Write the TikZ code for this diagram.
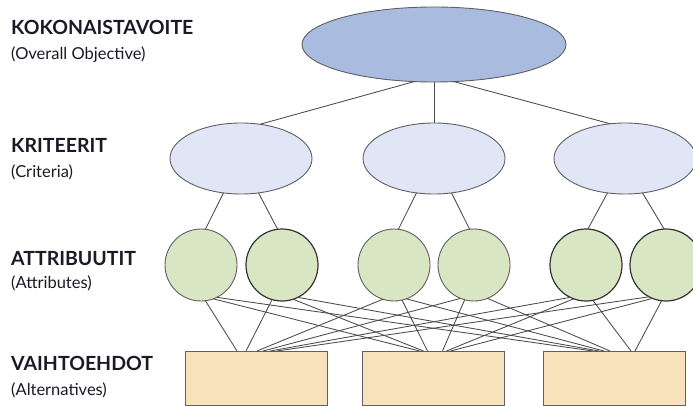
\documentclass[tikz,border=0pt]{standalone}
\usepackage{fontspec}
\setmainfont{Lato}
\usetikzlibrary{shapes.geometric}
\definecolor{topfill}{HTML}{A9BCE0}
\definecolor{critfill}{HTML}{E0E6F5}
\definecolor{attrfill}{HTML}{D8E6C4}
\definecolor{altfill}{HTML}{F8E2BB}
\definecolor{edgegray}{HTML}{606060}
\definecolor{linegray}{HTML}{4A4A4A}
\definecolor{textdark}{HTML}{1A1A26}
\tikzset{
  topnode/.style={ellipse, draw=edgegray, line width=0.9pt, fill=topfill, minimum width=264pt, minimum height=75pt, inner sep=0pt, outer sep=0pt},
  critnode/.style={ellipse, draw=edgegray, line width=0.9pt, fill=critfill, minimum width=142pt, minimum height=71pt, inner sep=0pt, outer sep=0pt},
  attrnode/.style={circle, draw=edgegray, line width=0.9pt, fill=attrfill, minimum size=72pt, inner sep=0pt, outer sep=0pt},
  attrdark/.style={attrnode, draw=black!80, line width=1.2pt},
  altnode/.style={rectangle, draw=edgegray, line width=0.9pt, fill=altfill, minimum width=142pt, minimum height=54pt, inner sep=0pt, outer sep=0pt},
  conn/.style={draw=linegray, line width=0.85pt},
  headlabel/.style={anchor=base west, inner sep=0pt, font=\fontsize{19.5}{21}\selectfont\bfseries, text=textdark},
  sublabel/.style={anchor=base west, inner sep=0pt, font=\fontsize{16.5}{18}\selectfont, text=textdark}
}
\begin{document}
\begin{tikzpicture}[x=1pt, y=-1pt]
\useasboundingbox (0,0) rectangle (693,406);
\fill[white] (0,0) rectangle (693,406);

% labels
\node[headlabel] (l1) at (11,35) {KOKONAISTAVOITE};
\node[sublabel] (s1) at (11,60) {(Overall Objective)};
\node[headlabel] (l2) at (11,153) {KRITEERIT};
\node[sublabel] (s2) at (11,178) {(Criteria)};
\node[headlabel] (l3) at (11,265) {ATTRIBUUTIT};
\node[sublabel] (s3) at (11,288) {(Attributes)};
\node[headlabel] (l4) at (11,370) {VAIHTOEHDOT};
\node[sublabel] (s4) at (11,395) {(Alternatives)};

% nodes
\node[topnode] (top) at (434,44.5) {};
\node[critnode] (k1) at (241,158.5) {};
\node[critnode] (k2) at (434,158.5) {};
\node[critnode] (k3) at (625,158.5) {};
\node[attrnode] (a1) at (201,265) {};
\node[attrdark] (a2) at (282,265) {};
\node[attrnode] (a3) at (394,265) {};
\node[attrnode] (a4) at (474,265) {};
\node[attrdark] (a5) at (586,265) {};
\node[attrdark] (a6) at (666,265) {};
\node[altnode] (b1) at (256,378) {};
\node[altnode] (b2) at (433.5,378) {};
\node[altnode] (b3) at (614,378) {};

% objective -> criteria
\draw[conn] (top.-118) -- (k1.61);
\draw[conn] (top.-90) -- (k2.90);
\draw[conn] (top.-62) -- (k3.113);

% criteria -> attributes
\draw[conn] (k1.-117) -- (a1.83);
\draw[conn] (k1.-63) -- (a2.97);
\draw[conn] (k2.-117) -- (a3.83);
\draw[conn] (k2.-63) -- (a4.97);
\draw[conn] (k3.-117) -- (a5.87);
\draw[conn] (k3.-63) -- (a6.93);

% attributes -> alternatives
\draw[conn] (a1.-83) -- ([xshift=-19pt]b1.north);
\draw[conn] (a1.-70) -- ([xshift=-14pt]b2.north);
\draw[conn] (a1.-64) -- ([xshift=-21pt]b3.north);

\draw[conn] (a2.-106) -- ([xshift=-10pt]b1.north);
\draw[conn] (a2.-72) -- ([xshift=-10pt]b2.north);
\draw[conn] (a2.-64) -- ([xshift=-15pt]b3.north);

\draw[conn] (a3.-108) -- ([xshift=1pt]b1.north);
\draw[conn] (a3.-77) -- ([xshift=-6pt]b2.north);
\draw[conn] (a3.-70) -- ([xshift=-10pt]b3.north);

\draw[conn] (a4.-112) -- ([xshift=7pt]b1.north);
\draw[conn] (a4.-105) -- ([xshift=9pt]b2.north);
\draw[conn] (a4.-68) -- ([xshift=-4pt]b3.north);

\draw[conn] (a5.-116) -- ([xshift=14pt]b1.north);
\draw[conn] (a5.-110) -- ([xshift=13pt]b2.north);
\draw[conn] (a5.-79) -- ([xshift=17pt]b3.north);

\draw[conn] (a6.-118) -- ([xshift=21pt]b1.north);
\draw[conn] (a6.-112) -- ([xshift=17pt]b2.north);
\draw[conn] (a6.-97) -- ([xshift=21pt]b3.north);
\end{tikzpicture}
\end{document}
